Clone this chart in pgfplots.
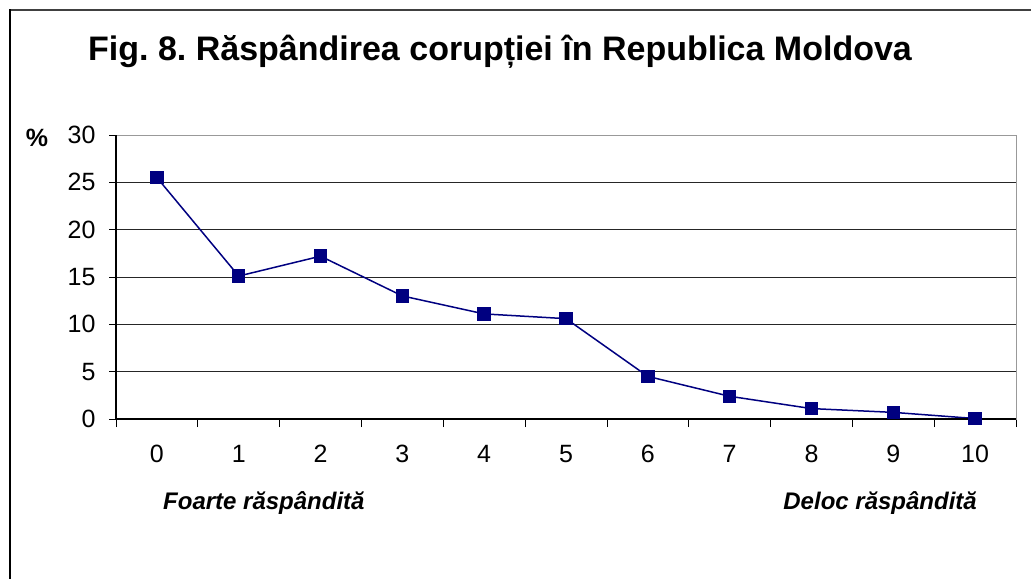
\documentclass[border=0pt]{standalone}
\usepackage{pgfplots}
\pgfplotsset{compat=1.18}
\usepackage{fontspec}
\setmainfont{Liberation Sans}
\frenchspacing
\definecolor{navy}{RGB}{0,0,128}
\begin{document}
\begin{tikzpicture}
\path[use as bounding box] (0pt,0pt) rectangle (1031pt,579pt);
\draw[line width=1.5pt, black!75] (10pt,569pt) -- (1031pt,569pt);
\draw[line width=1.5pt, black] (10pt,569.75pt) -- (10pt,0pt);
\begin{axis}[
  at={(116pt,160pt)}, anchor=south west,
  scale only axis, width=900pt, height=284pt,
  xmin=-0.5, xmax=10.5, ymin=0, ymax=30,
  xtick={0,...,10}, ytick={0,5,...,30},
  minor xtick={-0.5,0.5,...,10.5},
  major x tick style={draw=none},
  minor tick length=8pt, major tick length=7pt,
  tick align=outside, xtick pos=left, ytick pos=left,
  ymajorgrids, grid style={black!85, line width=0.8pt},
  axis line style={draw=gray!80, line width=1pt},
  tick style={black, line width=0.8pt},
  ticklabel style={font=\fontsize{25}{30}\selectfont},
  xticklabel style={yshift=-16pt},
  yticklabel style={xshift=-10pt},
  /pgf/number format/assume math mode=true,
  clip=false,
]
\addplot[navy, line width=1.5pt, mark=square*, mark size=6pt, mark options={solid, fill=navy}] coordinates {
(0,25.5) (1,15.1) (2,17.2) (3,13.0) (4,11.1) (5,10.6) (6,4.5) (7,2.4) (8,1.1) (9,0.7) (10,0.05)
};
\draw[black, line width=1.2pt] (rel axis cs:0,0)--(rel axis cs:0,1);
\draw[black, line width=1.2pt] (rel axis cs:0,0)--(rel axis cs:1,0);
\end{axis}
\node[font=\bfseries\fontsize{34}{40}\selectfont] at (500pt,527pt) {Fig. 8. Răspândirea corupției în Republica Moldova};
\node[font=\bfseries\fontsize{25}{30}\selectfont] at (37pt,441.5pt) {\%};
\node[font=\bfseries\itshape\fontsize{24}{28}\selectfont, anchor=west, inner sep=0pt] at (163pt,76pt) {Foarte răspândită};
\node[font=\bfseries\itshape\fontsize{24}{28}\selectfont, anchor=east, inner sep=0pt] at (977pt,76pt) {Deloc răspândită};
\end{tikzpicture}
\end{document}
